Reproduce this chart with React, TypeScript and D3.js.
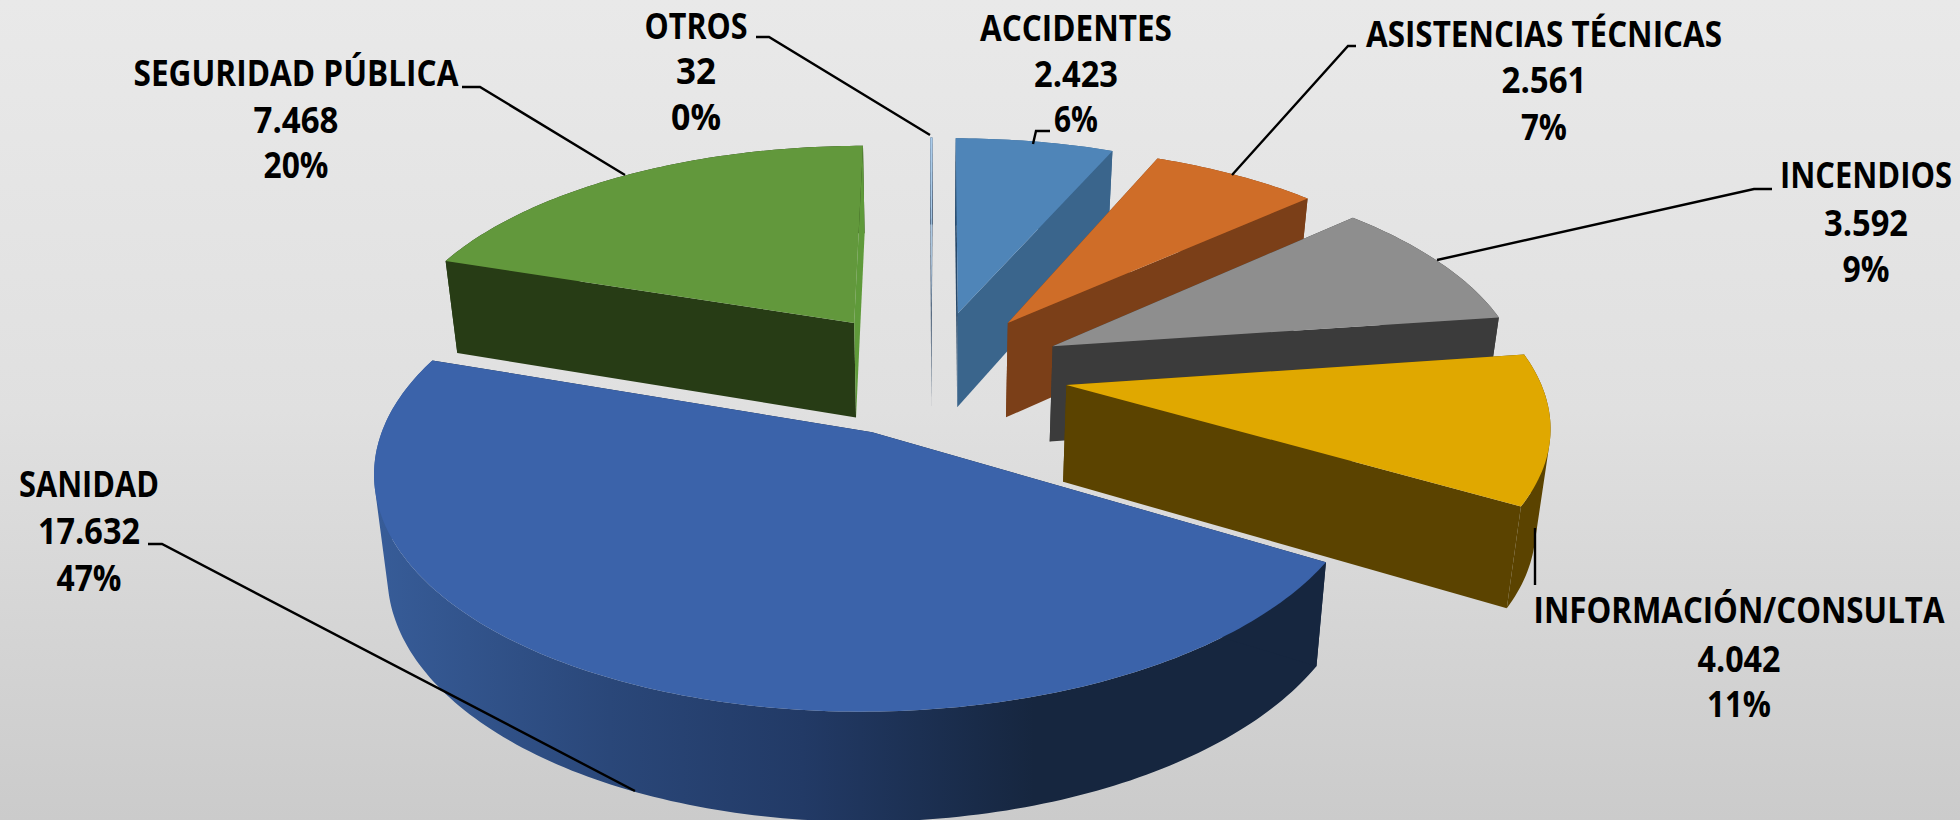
import React from "react";
import * as d3 from "d3";

const categories = ["SANIDAD", "SEGURIDAD PÚBLICA", "OTROS", "ACCIDENTES", "ASISTENCIAS TÉCNICAS", "INCENDIOS", "INFORMACIÓN/CONSULTA"];
const values = [17632, 7468, 32, 2423, 2561, 3592, 4042];
const valueLabels = ["17.632", "7.468", "32", "2.423", "2.561", "3.592", "4.042"];
const percentLabels = ["47%", "20%", "0%", "6%", "7%", "9%", "11%"];
const topColors = ["#3b63aa", "#62983c", "#a9cbea", "#4f85b8", "#cf6d28", "#8e8e8e", "#e0a800"];
const wallColors = ["url(#wallGrad)", "#273c15", "#1f3a5a", "#3a658c", "#7b3f18", "#3b3b3b", "#5b4300"];
const startFaceColors = ["#16263f", "#273c15", "#1f3a5a", "#27496b", "#7b3f18", "#3b3b3b", "#5b4300"];
const endFaceColors = ["#16263f", "#5f9a3a", "#1f3a5a", "#3a658c", "#7b3f18", "#3b3b3b", "#5b4300"];
const drawOrder = [2, 3, 4, 5, 6, 1, 0];

// label layout: centre x, centre y of the three lines, and measured text widths
const labelX = [89, 296, 696, 1076, 1544, 1866, 1739];
const labelY = [[488, 535, 582], [77, 124, 169], [30, 75, 121], [32, 78, 123], [38, 84, 131], [179, 227, 273], [614, 663, 708]];
const nameWidth = [140, 325, 103, 192, 356, 172, 411];
const valueWidth = [102, 85, 40, 84, 85, 84, 83];
const percentWidth = [65, 65, 50, 44, 46, 47, 64];
const leaders = [
  "M148,544 L162,544 L635,791",
  "M462,87 L480,87 L625,175",
  "M756,37 L769,37 L930,135",
  "M1050,131 L1036,131 L1033,144",
  "M1356,46 L1348,46 L1232,175",
  "M1772,189 L1754,189 L1437,260",
  "M1535,528 L1535,585",
];

const W = 1960, H = 820;
const Cx = 931.25, Cy = 372.5, RX = 471, RY = 217.5, PERSP = 0.15, EXPLODE = 0.29;
const DROP_K = 0.024, DROP_D = 94, DROP_S = 0.04, DROP_Y = 312;
const FONT_SIZE = 35;
const FONT_FAMILY = "'Open Sans', sans-serif";

type P = [number, number];
const project = (u: number, v: number): P => {
  const den = 1 - PERSP * v;
  return [Cx + (RX * u) / den, Cy + (RY * v) / den];
};
const drop = ([x, y]: P): P => [x - DROP_K * (x - Cx), y + DROP_D + DROP_S * (y - DROP_Y)];
const path = d3.line().curve(d3.curveLinear);

// swept wall: one consistently wound quad per rim segment, so their union is solid
const sweep = (rim: P[], low: P[]) =>
  d3.range(rim.length - 1)
    .map((i) => {
      const q: P[] = [rim[i], rim[i + 1], low[i + 1], low[i]];
      return path(d3.polygonArea(q) < 0 ? q.slice().reverse() : q)! + "Z";
    })
    .join("");

const measureCtx = document.createElement("canvas").getContext("2d")!;
const fitted = (text: string, width: number) => {
  measureCtx.font = `700 ${FONT_SIZE}px ${FONT_FAMILY}`;
  return width / measureCtx.measureText(text).width;
};

function Fit({ x, y, width, text }: { x: number; y: number; width: number; text: string }) {
  return (
    <text transform={`translate(${x},${y}) scale(${fitted(text, width)},1)`}>{text}</text>
  );
}

export default function App() {
  const arcs = d3.pie<number>().sort(null).startAngle((120.5 * Math.PI) / 180).endAngle((480.5 * Math.PI) / 180)(values);
  const slices = arcs.map((a) => {
    const mid = (a.startAngle + a.endAngle) / 2;
    const u0 = EXPLODE * Math.sin(mid), v0 = -EXPLODE * Math.cos(mid);
    const apex = project(u0, v0);
    const n = Math.max(2, Math.ceil(((a.endAngle - a.startAngle) * 180) / Math.PI));
    const rim = d3.range(n + 1).map((i) => {
      const t = a.startAngle + ((a.endAngle - a.startAngle) * i) / n;
      return project(u0 + Math.sin(t), v0 - Math.cos(t));
    });
    const rimLow = rim.map(drop);
    return {
      top: path([apex, ...rim])! + "Z",
      wall: sweep(rim, rimLow),
      startFace: path([apex, rim[0], rimLow[0], drop(apex)])! + "Z",
      endFace: path([apex, rim[n], rimLow[n], drop(apex)])! + "Z",
    };
  });
  return (
    <svg width={W} height={H} viewBox={`0 0 ${W} ${H}`} style={{ position: "absolute", left: 0, top: 0, display: "block" }}>
      <defs>
        <linearGradient id="bgGrad" x1="0" y1="0" x2="0" y2="1">
          <stop offset="0" stopColor="#e9e9e9" />
          <stop offset="0.5" stopColor="#e0e0e0" />
          <stop offset="1" stopColor="#cbcbcb" />
        </linearGradient>
        <linearGradient id="wallGrad" gradientUnits="userSpaceOnUse" x1="378" y1="0" x2="1150" y2="0">
          <stop offset="0" stopColor="#375c98" />
          <stop offset="0.3" stopColor="#2a4779" />
          <stop offset="0.55" stopColor="#223a66" />
          <stop offset="0.85" stopColor="#16263f" />
          <stop offset="1" stopColor="#16263f" />
        </linearGradient>
      </defs>
      <rect width={W} height={H} fill="url(#bgGrad)" />
      {drawOrder.map((i) => (
        <g key={categories[i]}>
          <path d={slices[i].wall} fill={wallColors[i]} />
          <path d={slices[i].startFace} fill={startFaceColors[i]} />
          <path d={slices[i].endFace} fill={endFaceColors[i]} />
          <path d={slices[i].top} fill={topColors[i]} />
        </g>
      ))}
      {leaders.map((d) => (
        <path key={d} d={d} fill="none" stroke="#000" strokeWidth={2.4} />
      ))}
      {categories.map((c, i) => (
        <g key={c} fontFamily={FONT_FAMILY} fontWeight={700} fontSize={FONT_SIZE} fill="#000" textAnchor="middle" dominantBaseline="middle">
          <Fit x={labelX[i]} y={labelY[i][0]} width={nameWidth[i]} text={c} />
          <Fit x={labelX[i]} y={labelY[i][1]} width={valueWidth[i]} text={valueLabels[i]} />
          <Fit x={labelX[i]} y={labelY[i][2]} width={percentWidth[i]} text={percentLabels[i]} />
        </g>
      ))}
    </svg>
  );
}
